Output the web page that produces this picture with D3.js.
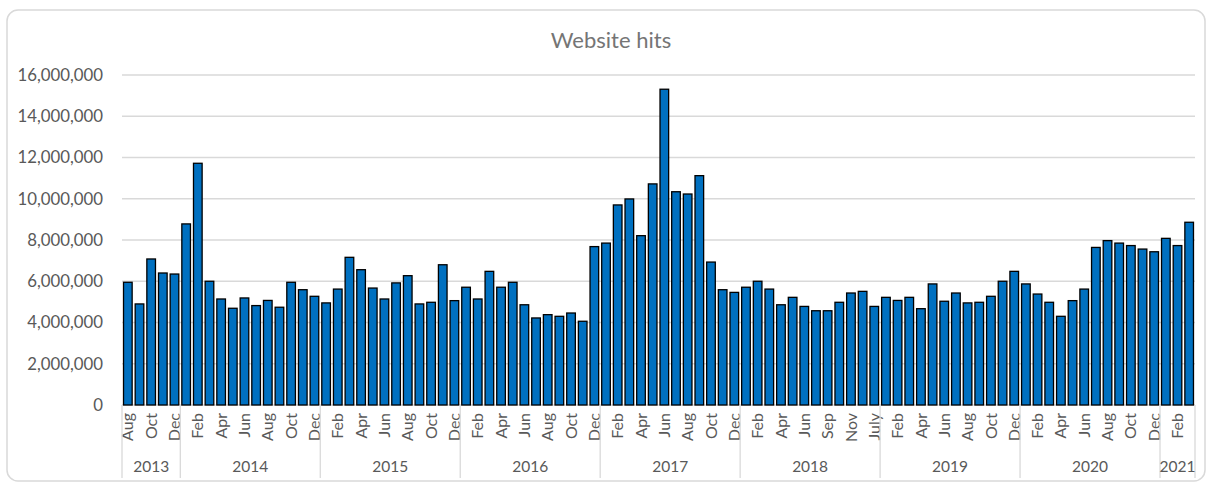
<!DOCTYPE html>
<html>
<head>
<meta charset="utf-8">
<script src="https://cdn.jsdelivr.net/npm/d3@7"></script>
<style>
  body { margin: 0; background: #fff; }
  svg { display: block; font-family: Lato, "Open Sans", sans-serif; }
</style>
</head>
<body>
<div id="chart"></div>
<script>
// month label for each bar (July 2018 sits at the end of its year in the source)
const monthLabels = [
  "Aug","Sep","Oct","Nov","Dec",
  "Jan","Feb","Mar","Apr","May","Jun","Jul","Aug","Sep","Oct","Nov","Dec",
  "Jan","Feb","Mar","Apr","May","Jun","Jul","Aug","Sep","Oct","Nov","Dec",
  "Jan","Feb","Mar","Apr","May","Jun","Jul","Aug","Sep","Oct","Nov","Dec",
  "Jan","Feb","Mar","Apr","May","Jun","Jul","Aug","Sep","Oct","Nov","Dec",
  "Jan","Feb","Mar","Apr","May","Jun","Aug","Sep","Oct","Nov","Dec","July",
  "Jan","Feb","Mar","Apr","May","Jun","Jul","Aug","Sep","Oct","Nov","Dec",
  "Jan","Feb","Mar","Apr","May","Jun","Jul","Aug","Sep","Oct","Nov","Dec",
  "Jan","Feb","Mar"
];
const yearLabels = ["2013","2014","2015","2016","2017","2018","2019","2020","2021"];
const yearCounts = [5, 12, 12, 12, 12, 12, 12, 12, 3];

const hits = [
  5950000, 4900000, 7080000, 6400000, 6350000,
  8780000, 11720000, 6000000, 5140000, 4690000, 5190000, 4820000, 5070000, 4740000, 5950000, 5590000, 5270000,
  4950000, 5620000, 7160000, 6560000, 5670000, 5140000, 5920000, 6270000, 4900000, 4980000, 6800000, 5060000,
  5710000, 5140000, 6480000, 5710000, 5950000, 4860000, 4220000, 4380000, 4300000, 4460000, 4060000, 7680000,
  7850000, 9700000, 9990000, 8210000, 10720000, 15310000, 10340000, 10230000, 11120000, 6930000, 5590000, 5460000,
  5710000, 6000000, 5620000, 4860000, 5220000, 4780000, 4570000, 4570000, 4980000, 5430000, 5510000, 4780000,
  5220000, 5070000, 5220000, 4670000, 5870000, 5030000, 5430000, 4950000, 4980000, 5270000, 6000000, 6480000,
  5870000, 5380000, 4980000, 4300000, 5060000, 5620000, 7640000, 7970000, 7850000, 7730000, 7560000, 7430000,
  8080000, 7730000, 8860000
];
const yTicks = [0, 2000000, 4000000, 6000000, 8000000, 10000000, 12000000, 14000000, 16000000];

const width = 1208, height = 483;
const plotLeft = 122, plotRight = 1195, plotTop = 75, plotBottom = 405;
const textColor = "#595959", gridColor = "#d9d9d9";

const svg = d3.select("#chart").append("svg")
    .attr("width", width)
    .attr("height", height);

// chart frame
svg.append("rect")
    .attr("x", 7).attr("y", 10)
    .attr("width", 1198).attr("height", 471)
    .attr("rx", 11)
    .attr("fill", "#fff")
    .attr("stroke", gridColor)
    .attr("stroke-width", 1.5);

svg.append("text")
    .attr("x", 611).attr("y", 40)
    .attr("text-anchor", "middle")
    .attr("dy", "0.35em")
    .style("font-size", "22px")
    .style("fill", "#757575")
    .text("Website hits");

const x = d3.scaleBand()
    .domain(d3.range(hits.length))
    .range([plotLeft, plotRight])
    .paddingInner(0.26)
    .paddingOuter(0.13);

const y = d3.scaleLinear().domain([0, 16000000]).range([plotBottom, plotTop]);

// gridlines + y labels
svg.append("g")
    .selectAll("line")
    .data(yTicks)
    .join("line")
    .attr("x1", plotLeft).attr("x2", plotRight)
    .attr("y1", d => y(d)).attr("y2", d => y(d))
    .attr("stroke", gridColor)
    .attr("stroke-width", 1.3);

svg.append("g")
    .selectAll("text")
    .data(yTicks)
    .join("text")
    .attr("x", 103)
    .attr("y", d => y(d))
    .attr("dy", "0.35em")
    .attr("text-anchor", "end")
    .style("font-size", "16.8px")
    .style("fill", textColor)
    .text(d => d3.format(",")(d));

// bars
svg.append("g")
    .selectAll("rect")
    .data(hits)
    .join("rect")
    .attr("x", (d, i) => x(i))
    .attr("y", d => y(d))
    .attr("width", x.bandwidth())
    .attr("height", d => y(0) - y(d))
    .attr("fill", "#0070C0")
    .attr("stroke", "#000")
    .attr("stroke-width", 1.3);

// month labels, every other category
const step = x.step();
svg.append("g")
    .selectAll("text")
    .data(monthLabels.map((m, i) => ({ m, i })).filter(d => d.i % 2 === 0))
    .join("text")
    .attr("transform", d => `translate(${x(d.i) + x.bandwidth() / 2},413) rotate(-90)`)
    .attr("text-anchor", "end")
    .attr("dy", "0.35em")
    .style("font-size", "16px")
    .style("fill", textColor)
    .text(d => d.m);

// year groups
const starts = Array.from(d3.cumsum([0, ...yearCounts]));
const edges = starts.map(s => s === 0 ? plotLeft : (s >= hits.length ? plotRight : x(s) - step * x.paddingInner() / 2));

svg.append("g")
    .selectAll("line")
    .data(edges)
    .join("line")
    .attr("x1", d => d).attr("x2", d => d)
    .attr("y1", plotBottom).attr("y2", 478)
    .attr("stroke", gridColor)
    .attr("stroke-width", 1.3);

svg.append("g")
    .selectAll("text")
    .data(yearLabels)
    .join("text")
    .attr("x", (d, i) => (edges[i] + edges[i + 1]) / 2)
    .attr("y", 467)
    .attr("dy", "0.35em")
    .attr("text-anchor", "middle")
    .style("font-size", "15.5px")
    .style("fill", textColor)
    .text(d => d);
</script>
</body>
</html>
